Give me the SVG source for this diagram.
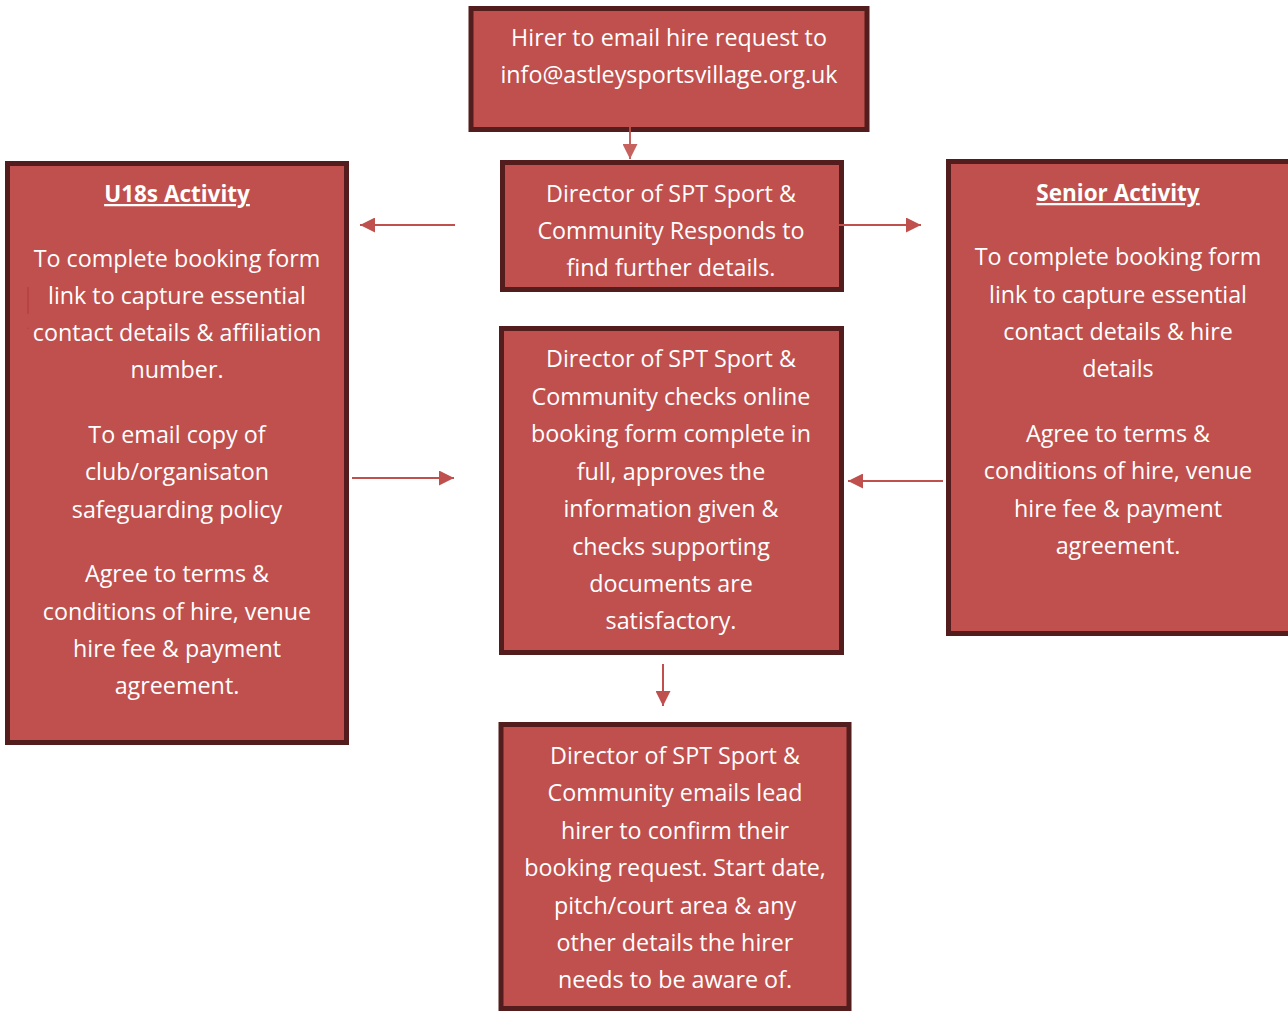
<svg xmlns="http://www.w3.org/2000/svg" width="1288" height="1012" viewBox="0 0 1288 1012">
<defs>
<style>
.box{fill:#C0504D;stroke:#531D1D;stroke-width:5;}
.t{font-family:"Open Sans","Liberation Sans",sans-serif;font-size:23.3px;fill:#FFFFFF;text-anchor:middle;}
.h{font-weight:bold;font-size:22.5px;text-decoration:underline;}
.c{stroke:#C0504D;stroke-width:2;fill:none;}
</style>
<marker id="ah" viewBox="0 0 10 10" refX="10" refY="5" markerWidth="15" markerHeight="15" markerUnits="userSpaceOnUse" orient="auto">
<path d="M0,0 L10,5 L0,10 z" fill="#C0504D"/>
</marker>
</defs>
<rect width="1288" height="1012" fill="#FFFFFF"/>
<g id="n-hirer">
<rect class="box" x="471" y="8.5" width="396" height="121"/>
<text class="t" x="669" y="46">Hirer to email hire request to</text>
<text class="t" x="669" y="83">info@astleysportsvillage.org.uk</text>
</g>
<g id="n-responds">
<rect class="box" x="502.5" y="162.5" width="339" height="127"/>
<text class="t" x="671" y="202">Director of SPT Sport &amp;</text>
<text class="t" x="671" y="239">Community Responds to</text>
<text class="t" x="671" y="276">find further details.</text>
</g>
<g id="n-u18">
<rect class="box" x="7.5" y="163.5" width="339" height="579"/>
<text class="t h" x="177" y="202">U18s Activity</text>
<text class="t" x="177" y="267">To complete booking form</text>
<text class="t" x="177" y="304">link to capture essential</text>
<text class="t" x="177" y="341">contact details &amp; affiliation</text>
<text class="t" x="177" y="378">number.</text>
<text class="t" x="177" y="443">To email copy of</text>
<text class="t" x="177" y="480">club/organisaton</text>
<text class="t" x="177" y="518">safeguarding policy</text>
<text class="t" x="177" y="582">Agree to terms &amp;</text>
<text class="t" x="177" y="620">conditions of hire, venue</text>
<text class="t" x="177" y="657">hire fee &amp; payment</text>
<text class="t" x="177" y="694">agreement.</text>
</g>
<g id="n-senior">
<rect class="box" x="948.5" y="161.5" width="342" height="472"/>
<text class="t h" x="1118" y="201">Senior Activity</text>
<text class="t" x="1118" y="265">To complete booking form</text>
<text class="t" x="1118" y="303">link to capture essential</text>
<text class="t" x="1118" y="340">contact details &amp; hire</text>
<text class="t" x="1118" y="377">details</text>
<text class="t" x="1118" y="442">Agree to terms &amp;</text>
<text class="t" x="1118" y="479">conditions of hire, venue</text>
<text class="t" x="1118" y="517">hire fee &amp; payment</text>
<text class="t" x="1118" y="554">agreement.</text>
</g>
<g id="n-checks">
<rect class="box" x="501.5" y="328.5" width="340" height="324"/>
<text class="t" x="671" y="367">Director of SPT Sport &amp;</text>
<text class="t" x="671" y="405">Community checks online</text>
<text class="t" x="671" y="442">booking form complete in</text>
<text class="t" x="671" y="480">full, approves the</text>
<text class="t" x="671" y="517">information given &amp;</text>
<text class="t" x="671" y="555">checks supporting</text>
<text class="t" x="671" y="592">documents are</text>
<text class="t" x="671" y="629">satisfactory.</text>
</g>
<g id="n-confirm">
<rect class="box" x="501" y="724.5" width="348" height="284"/>
<text class="t" x="675" y="764">Director of SPT Sport &amp;</text>
<text class="t" x="675" y="801">Community emails lead</text>
<text class="t" x="675" y="839">hirer to confirm their</text>
<text class="t" x="675" y="876">booking request. Start date,</text>
<text class="t" x="675" y="914">pitch/court area &amp; any</text>
<text class="t" x="675" y="951">other details the hirer</text>
<text class="t" x="675" y="988">needs to be aware of.</text>
</g>
<g id="connectors">
<line class="c" x1="630" y1="118" x2="630" y2="159" marker-end="url(#ah)" opacity="0.9"/>
<line class="c" x1="820" y1="225" x2="921" y2="225" marker-end="url(#ah)"/>
<line class="c" x1="455" y1="225" x2="360" y2="225" marker-end="url(#ah)"/>
<line class="c" x1="352" y1="478" x2="454" y2="478" marker-end="url(#ah)"/>
<line class="c" x1="943" y1="481" x2="848" y2="481" marker-end="url(#ah)"/>
<line class="c" x1="663" y1="664" x2="663" y2="706" marker-end="url(#ah)"/>
<line x1="28" y1="287" x2="28" y2="329" stroke="#B03A3A" stroke-width="2" marker-end="url(#ah)" opacity="0.5"/>
</g>
</svg>
